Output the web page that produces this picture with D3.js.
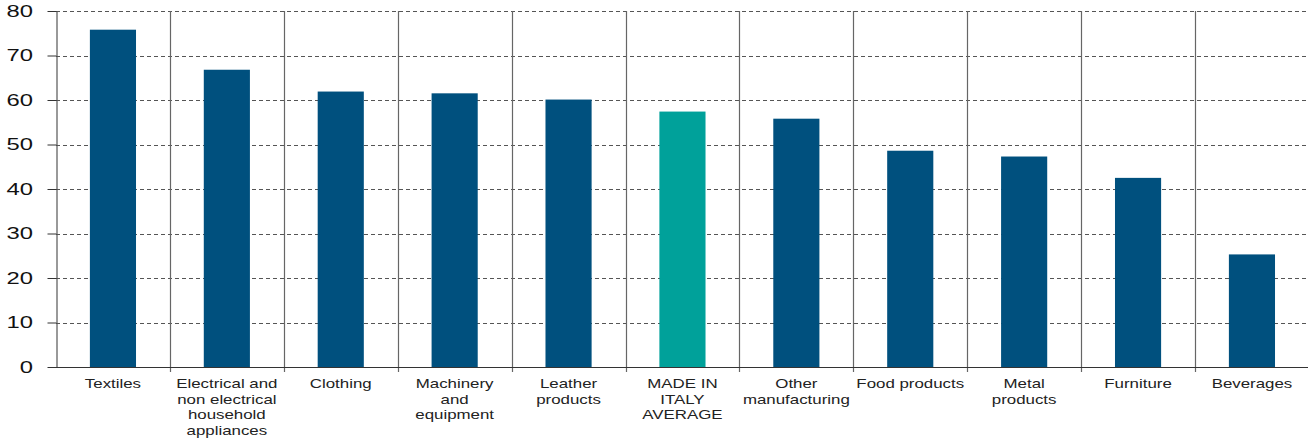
<!DOCTYPE html>
<html>
<head>
<meta charset="utf-8">
<script src="https://cdn.jsdelivr.net/npm/d3@7"></script>
<style>
  html, body { margin: 0; padding: 0; background: #fff; }
  svg { display: block; }
</style>
</head>
<body>
<svg id="chart" width="1308" height="438"></svg>
<script>
// Category names (line breaks mark where each label wraps)
const categories = [
  "Textiles",
  "Electrical and\nnon electrical\nhousehold\nappliances",
  "Clothing",
  "Machinery\nand\nequipment",
  "Leather\nproducts",
  "MADE IN\nITALY\nAVERAGE",
  "Other\nmanufacturing",
  "Food products",
  "Metal\nproducts",
  "Furniture",
  "Beverages"
];
const values = [75.8, 66.8, 61.9, 61.5, 60.1, 57.4, 55.8, 48.6, 47.3, 42.5, 25.3];
const highlighted = ["MADE IN\nITALY\nAVERAGE"];
const yTicks = [0, 10, 20, 30, 40, 50, 60, 70, 80];

const svg = d3.select("#chart");
const margin = { top: 11, right: 0, bottom: 71, left: 56 };
const width = 1308, height = 438;

const x = d3.scaleBand()
  .domain(categories)
  .range([margin.left, margin.left + 11 * 113.9])
  .paddingInner(0)
  .paddingOuter(0);

const y = d3.scaleLinear()
  .domain([0, 80])
  .range([height - margin.bottom, margin.top]);

const font = "Liberation Sans, Arial, sans-serif";

// Horizontal dashed gridlines
svg.append("g")
  .selectAll("line")
  .data(yTicks.filter(d => d > 0))
  .join("line")
  .attr("x1", margin.left)
  .attr("x2", width)
  .attr("y1", d => Math.round(y(d)) + 0.5)
  .attr("y2", d => Math.round(y(d)) + 0.5)
  .attr("stroke", "#555")
  .attr("stroke-width", 1)
  .attr("stroke-dasharray", "4,3");

// Vertical separators between categories
const seps = categories.map(c => x(c) + x.bandwidth()).slice(0, -1);
svg.append("g")
  .selectAll("line")
  .data(seps)
  .join("line")
  .attr("x1", d => Math.round(d) + 0.5)
  .attr("x2", d => Math.round(d) + 0.5)
  .attr("y1", y(80))
  .attr("y2", y(0) + 5)
  .attr("stroke", "#666")
  .attr("stroke-width", 1.2);

// Bars
const barW = x.bandwidth() * 0.405;
svg.append("g")
  .selectAll("rect")
  .data(categories)
  .join("rect")
  .attr("x", d => x(d) + (x.bandwidth() - barW) / 2)
  .attr("width", barW)
  .attr("y", (d, i) => y(values[i]))
  .attr("height", (d, i) => y(0) - y(values[i]))
  .attr("fill", d => highlighted.includes(d) ? "#00A19A" : "#00507E");

// Y axis (tick labels drawn separately with a wide face)
const yAxis = svg.append("g")
  .attr("transform", `translate(${margin.left + 0.5},0)`)
  .call(d3.axisLeft(y).tickValues(yTicks).tickSize(9).tickFormat("").tickSizeOuter(0));
yAxis.select(".domain").attr("stroke", "#555").attr("stroke-width", 1.2);
yAxis.selectAll(".tick line").attr("stroke", "#333");

svg.append("g")
  .selectAll("text")
  .data(yTicks)
  .join("text")
  .attr("transform", d => `translate(33,${y(d)}) scale(1.4,1)`)
  .attr("text-anchor", "end")
  .attr("dy", "0.35em")
  .attr("font-family", font)
  .attr("font-size", 17)
  .attr("fill", "#111")
  .text(d => d);

// X baseline
svg.append("line")
  .attr("x1", margin.left)
  .attr("x2", width)
  .attr("y1", Math.round(y(0)) + 0.5)
  .attr("y2", Math.round(y(0)) + 0.5)
  .attr("stroke", "#333")
  .attr("stroke-width", 1.2);

// Category labels
const labels = svg.append("g")
  .selectAll("text")
  .data(categories)
  .join("text")
  .attr("transform", d => `translate(${x(d) + x.bandwidth() / 2},${y(0) + 21}) scale(1.25,1)`)
  .attr("text-anchor", "middle")
  .attr("font-family", font)
  .attr("font-size", 13.5)
  .attr("fill", "#222");
labels.each(function(d) {
  const t = d3.select(this);
  d.split("\n").forEach((line, i) => {
    t.append("tspan")
      .attr("x", 0)
      .attr("dy", i === 0 ? 0 : 15.7)
      .text(line);
  });
});
</script>
</body>
</html>
